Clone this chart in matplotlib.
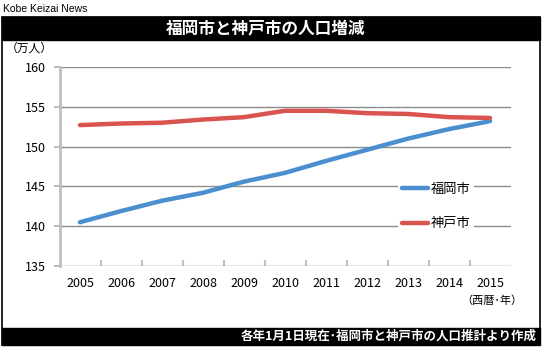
import matplotlib
matplotlib.use("Agg")
import matplotlib.pyplot as plt
from matplotlib.patches import Rectangle

plt.rcParams['font.family'] = ['Noto Sans CJK JP', 'DejaVu Sans']

# ------------------------------------------------------------
# data (万人, 各年1月1日)
# ------------------------------------------------------------
years = [2005, 2006, 2007, 2008, 2009, 2010, 2011, 2012, 2013, 2014, 2015]
fukuoka = [140.5, 141.9, 143.2, 144.2, 145.6, 146.7, 148.2, 149.6, 151.0, 152.2, 153.2]
kobe = [152.7, 152.9, 153.0, 153.4, 153.7, 154.5, 154.5, 154.2, 154.1, 153.7, 153.6]
y_ticks = [135, 140, 145, 150, 155, 160]

W, H = 542, 350
fig = plt.figure(figsize=(W / 100, H / 100), dpi=100)

# ------------------------------------------------------------
# frame, title bar and footer bar
# ------------------------------------------------------------
fig.text(3 / W, 1 - 9 / H, "Kobe Keizai News", fontsize=7.5, va='center', ha='left',
         family=['Liberation Sans', 'DejaVu Sans'])
fig.add_artist(Rectangle((2 / W, 1 - 345 / H), 538 / W, 328 / H, transform=fig.transFigure,
                         facecolor='white', edgecolor='black', linewidth=1.2, zorder=-5))
fig.add_artist(Rectangle((2 / W, 1 - 40 / H), 538 / W, 23 / H, transform=fig.transFigure,
                         facecolor='black', edgecolor='black'))
fig.add_artist(Rectangle((2 / W, 1 - 345 / H), 538 / W, 17 / H, transform=fig.transFigure,
                         facecolor='black', edgecolor='black'))
fig.text(0.49, 1 - 28.5 / H, "福岡市と神戸市の人口増減", color='white', fontsize=12,
         fontweight='bold', ha='center', va='center')
fig.text(537 / W, 1 - 336.5 / H, "各年1月1日現在･福岡市と神戸市の人口推計より作成",
         color='white', fontsize=9, fontweight='bold', ha='right', va='center')

# ------------------------------------------------------------
# plot area
# ------------------------------------------------------------
ax = fig.add_axes([59.5 / W, 84 / H, 451 / W, 199 / H])
ax.set_facecolor('none')
ax.plot(years, fukuoka, color='#4a8fd0', linewidth=3.2, solid_capstyle='round', label='福岡市')
ax.plot(years, kobe, color='#d9534f', linewidth=3.2, solid_capstyle='round', label='神戸市')

ax.set_xlim(2004.5, 2015.5)
ax.set_ylim(135, 160)
ax.set_yticks(y_ticks)
ax.set_xticks(years)
ax.set_xticks([y + 0.5 for y in years[:-1]], minor=True)
ax.grid(axis='y', color='#8c8c8c', linewidth=1)
ax.set_axisbelow(True)
for s in ['top', 'right', 'bottom']:
    ax.spines[s].set_visible(False)
ax.spines['left'].set_color('#bfbfbf')
ax.spines['left'].set_linewidth(2)
ax.tick_params(axis='y', length=4, color='#bfbfbf', width=1.5, labelsize=9, pad=6)
ax.tick_params(axis='x', which='major', length=0, labelsize=9, pad=8)
ax.tick_params(axis='x', which='minor', length=4, color='#bfbfbf', width=1.5, direction='in')

fig.text(6 / W, 1 - 48 / H, "（万人）", fontsize=8.5, ha='left', va='center')
fig.text(492 / W, 1 - 301 / H, "（西暦･年）", fontsize=8, ha='center', va='center')

leg = ax.legend(loc='upper left', bbox_to_anchor=(0.735, 0.47), frameon=True, fontsize=9.5,
                handlelength=2.0, handletextpad=0.2, labelspacing=1.6, borderpad=0.3)
leg.get_frame().set_edgecolor('none')
leg.get_frame().set_linewidth(0)
leg.get_frame().set_facecolor('white')
leg.get_frame().set_alpha(1)

fig.savefig("out.png", dpi=100)
